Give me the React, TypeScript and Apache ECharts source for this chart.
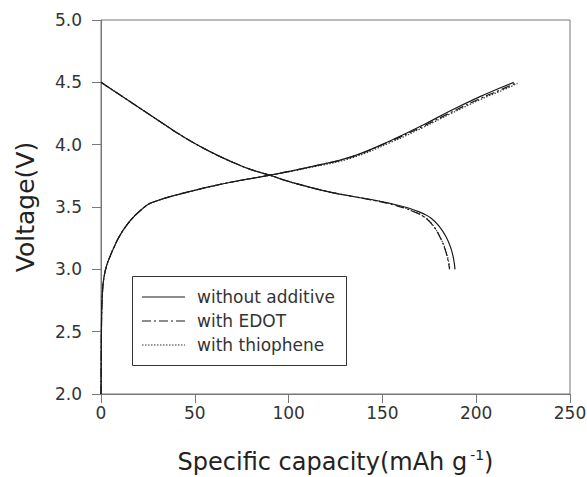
import React, { useEffect, useRef } from "react";
import * as echarts from "echarts";

// Charge curves
const chargeCapNone = [0, 0.3, 0.8, 1.5, 3, 5, 7, 10, 14, 18, 22, 25, 28, 35, 45, 60, 75, 90, 111, 133, 154, 172, 186, 202, 212, 220];
const chargeVNone = [2.0, 2.6, 2.82, 2.93, 3.03, 3.11, 3.18, 3.27, 3.36, 3.43, 3.485, 3.52, 3.54, 3.575, 3.615, 3.67, 3.715, 3.755, 3.82, 3.9, 4.03, 4.16, 4.27, 4.385, 4.45, 4.5];
const chargeCapEdot = [0, 0.3, 0.8, 1.5, 3, 5, 7, 10, 14, 18, 22, 25, 28, 35, 45, 60, 75, 90, 111, 133, 154, 172, 186, 202, 213, 222];
const chargeVEdot = [2.0, 2.6, 2.82, 2.93, 3.03, 3.11, 3.18, 3.27, 3.36, 3.43, 3.485, 3.52, 3.54, 3.575, 3.615, 3.67, 3.715, 3.755, 3.82, 3.9, 4.025, 4.15, 4.255, 4.37, 4.44, 4.5];
const chargeCapThio = [0, 0.3, 0.8, 1.5, 3, 5, 7, 10, 14, 18, 22, 25, 28, 35, 45, 60, 75, 90, 111, 133, 154, 172, 186, 202, 213, 222];
const chargeVThio = [2.0, 2.6, 2.82, 2.93, 3.03, 3.11, 3.18, 3.27, 3.36, 3.43, 3.485, 3.52, 3.54, 3.575, 3.615, 3.67, 3.715, 3.755, 3.815, 3.89, 4.015, 4.14, 4.245, 4.36, 4.43, 4.49];

// Discharge curves
const dischCapNone = [0, 10, 20, 30, 40, 50, 60, 70, 80, 90, 100, 111, 122, 133, 144, 154, 162, 168, 172, 176, 180, 184, 186.5, 188, 188.7];
const dischVNone = [4.5, 4.4, 4.3, 4.2, 4.1, 4.01, 3.93, 3.86, 3.8, 3.755, 3.705, 3.66, 3.62, 3.588, 3.56, 3.53, 3.5, 3.47, 3.445, 3.41, 3.35, 3.26, 3.17, 3.08, 3.0];
const dischCapEdot = [0, 10, 20, 30, 40, 50, 60, 70, 80, 90, 100, 111, 122, 133, 144, 154, 162, 167, 170, 174, 178, 181, 183.4, 185, 185.8];
const dischVEdot = [4.5, 4.4, 4.3, 4.2, 4.1, 4.01, 3.93, 3.86, 3.8, 3.755, 3.705, 3.66, 3.62, 3.588, 3.557, 3.525, 3.49, 3.46, 3.44, 3.4, 3.33, 3.25, 3.16, 3.07, 3.0];
const dischCapThio = [0, 10, 20, 30, 40, 50, 60, 70, 80, 90, 100, 111, 122, 133, 144, 154, 162, 167, 170, 174, 178, 181, 183.6, 185.2, 186];
const dischVThio = [4.5, 4.4, 4.3, 4.2, 4.1, 4.01, 3.93, 3.86, 3.8, 3.755, 3.705, 3.66, 3.62, 3.588, 3.558, 3.528, 3.493, 3.463, 3.443, 3.402, 3.332, 3.252, 3.16, 3.07, 3.0];

const seriesNames = ["without additive", "with EDOT", "with thiophene"];
const xTicks = [0, 50, 100, 150, 200, 250];
const yTicks = [2.0, 2.5, 3.0, 3.5, 4.0, 4.5, 5.0];

const FONT = "DejaVu Sans";

const zip = (xs: number[], ys: number[]) => xs.map((x, i) => [x, ys[i]]);

export default function App() {
  const ref = useRef<HTMLDivElement>(null);
  useEffect(() => {
    if (!ref.current) return;
    const chart = echarts.init(ref.current, null, { renderer: "svg" });
    const styles: any[] = [
      { type: "solid", color: "#1a1a1a", width: 1.2, dash: null },
      { type: [9, 3, 2, 3], color: "#1a1a1a", width: 1.2, dash: [9, 3, 2, 3] },
      { type: [1.5, 1.5], color: "#333", width: 1.1, dash: [1.5, 1.5] },
    ];
    const curves = [
      [zip(chargeCapNone, chargeVNone), zip(dischCapNone, dischVNone)],
      [zip(chargeCapEdot, chargeVEdot), zip(dischCapEdot, dischVEdot)],
      [zip(chargeCapThio, chargeVThio), zip(dischCapThio, dischVThio)],
    ];
    const series: any[] = [];
    curves.forEach((pair, i) => {
      pair.forEach((data) => {
        series.push({
          name: seriesNames[i],
          type: "line",
          data,
          symbol: "none",
          showSymbol: false,
          smooth: 0.4,
          lineStyle: { type: styles[i].type, color: styles[i].color, width: styles[i].width },
          z: 3 - i,
        });
      });
    });

    // legend drawn as graphic (lines + real text)
    const legendRowsY = [297, 321, 345];
    const legendGraphics: any[] = [
      {
        type: "rect",
        shape: { x: 132.5, y: 276.5, width: 214, height: 89 },
        style: { fill: "#fff", stroke: "#333", lineWidth: 1 },
        z: 10,
      },
    ];
    seriesNames.forEach((name, i) => {
      legendGraphics.push({
        type: "line",
        shape: { x1: 142, y1: legendRowsY[i], x2: 185, y2: legendRowsY[i] },
        style: { stroke: styles[i].color, lineWidth: styles[i].width, lineDash: styles[i].dash },
        z: 11,
      });
      legendGraphics.push({
        type: "text",
        x: 197,
        y: legendRowsY[i],
        style: {
          text: name,
          fontFamily: FONT,
          fontSize: 17,
          fill: "#333",
          verticalAlign: "middle",
          align: "left",
        },
        z: 11,
      });
    });

    chart.setOption({
      animation: false,
      grid: {
        left: 101,
        right: 17,
        top: 20,
        bottom: 83,
        show: true,
        borderColor: "#777",
        borderWidth: 1,
        outerBoundsMode: "none",
        containLabel: false,
      },
      xAxis: {
        type: "value",
        min: xTicks[0],
        max: xTicks[xTicks.length - 1],
        interval: 50,
        name: "Specific capacity(mAh g{sup|-1})",
        nameLocation: "middle",
        nameGap: 54,
        nameTextStyle: {
          fontFamily: FONT,
          fontSize: 24,
          color: "#222",
          rich: {
            sup: { fontFamily: FONT, fontSize: 14, color: "#222", verticalAlign: "top", padding: [0, 0, 14, 3] },
          },
        },
        axisLine: { show: true, lineStyle: { color: "#777", width: 1 } },
        axisTick: { show: true, inside: false, length: 9, lineStyle: { color: "#777" } },
        axisLabel: { fontFamily: FONT, fontSize: 17, color: "#333", margin: 10 },
        splitLine: { show: false },
      },
      yAxis: {
        type: "value",
        min: yTicks[0],
        max: yTicks[yTicks.length - 1],
        interval: 0.5,
        name: "Voltage(V)",
        nameLocation: "middle",
        nameGap: 63,
        nameTextStyle: { fontFamily: FONT, fontSize: 25, color: "#222" },
        axisLine: { show: true, lineStyle: { color: "#777", width: 1 } },
        axisTick: { show: true, inside: false, length: 9, lineStyle: { color: "#777" } },
        axisLabel: {
          fontFamily: FONT,
          fontSize: 17,
          color: "#333",
          margin: 19,
          formatter: (v: number) => v.toFixed(1),
        },
        splitLine: { show: false },
      },
      graphic: legendGraphics,
      series,
    });
    return () => chart.dispose();
  }, []);
  return (
    <div
      ref={ref}
      style={{ position: "fixed", left: 0, top: 0, width: 587, height: 477, background: "#fff" }}
    />
  );
}
